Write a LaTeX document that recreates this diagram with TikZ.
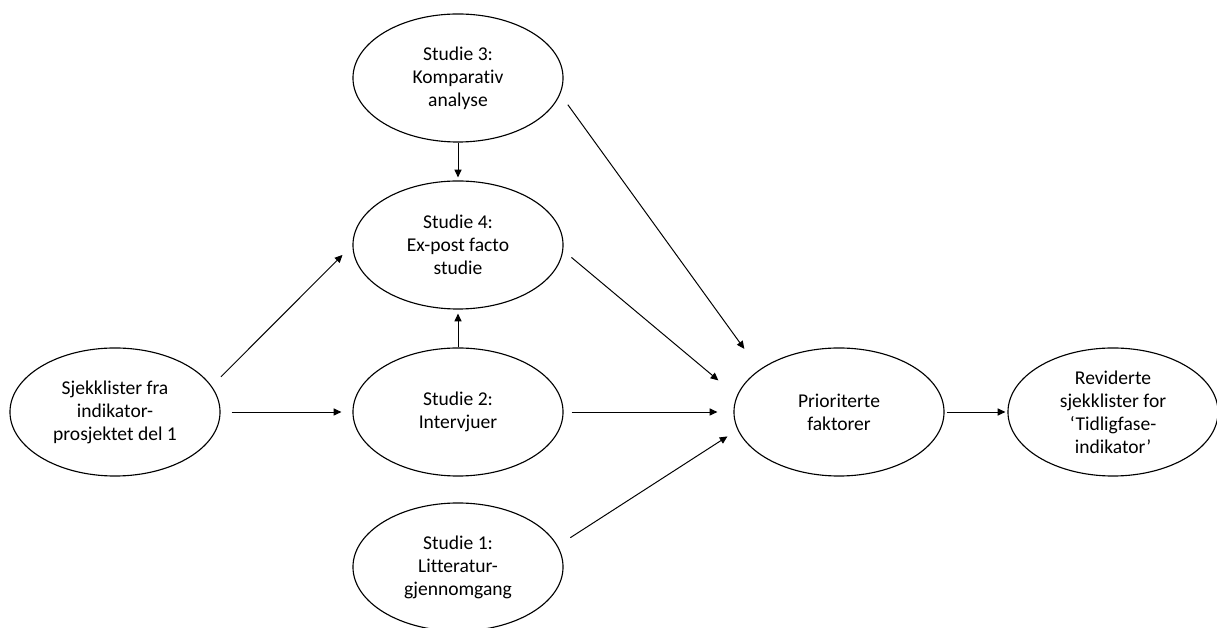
\documentclass[tikz,border=0pt]{standalone}
\usepackage{fontspec}
\setmainfont{Carlito}[Ligatures=NoCommon]
\usetikzlibrary{shapes.geometric, arrows.meta}

\begin{document}
\begin{tikzpicture}[x=0.025cm, y=-0.025cm,
  study/.style={ellipse, draw, line width=0.8pt, minimum width=5.25cm,
    minimum height=3.2cm, inner sep=0pt, align=center,
    font=\fontsize{13.9}{16.3}\selectfont},
  arr/.style={-{Triangle[length=5.5pt, width=5pt]}, line width=0.7pt}]

  \useasboundingbox (0, 0) rectangle (1217, 628);

  % the studies
  \node[study] (s3) at (458, 78)  {Studie 3:\\Komparativ\\analyse};
  \node[study] (s4) at (458, 245) {Studie 4:\\Ex-post facto\\studie};
  \node[study] (s2) at (458, 412) {Studie 2:\\Intervjuer};
  \node[study] (s1) at (458, 567) {Studie 1:\\Litteratur-\\gjennomgang};

  \node[study] (sjekk) at (115, 412)  {Sjekklister fra\\indikator-\\prosjektet del 1};
  \node[study] (prior) at (839, 412)  {Prioriterte\\faktorer};
  \node[study] (rev)   at (1113, 412) {Reviderte\\sjekklister for\\`Tidligfase-\\indikator'};

  % arrows
  \draw[arr, shorten <=0.275cm, shorten >=0.275cm] (sjekk.east) -- (s2.west);
  \draw[arr, shorten <=0.325cm, shorten >=0.35cm] (sjekk.15) -- (s4.west);
  \draw[arr, shorten >=0.075cm] (s3.south) -- (s4.north);
  \draw[arr, shorten >=0.1cm] (s2.north) -- (s4.south);
  \draw[arr, shorten <=0.325cm, shorten >=0.64cm] (s3.-9) -- (prior.152);
  \draw[arr, shorten <=0.27cm, shorten >=0.6cm] (s4.-3) -- (prior.171);
  \draw[arr, shorten <=0.2cm, shorten >=0.4cm] (s2.east) -- (prior.west);
  \draw[arr, shorten <=0.375cm, shorten >=0.3cm] (s1.12) -- (prior.190);
  \draw[arr, shorten <=0.05cm, shorten >=0.05cm] (prior.east) -- (rev.west);

\end{tikzpicture}
\end{document}
